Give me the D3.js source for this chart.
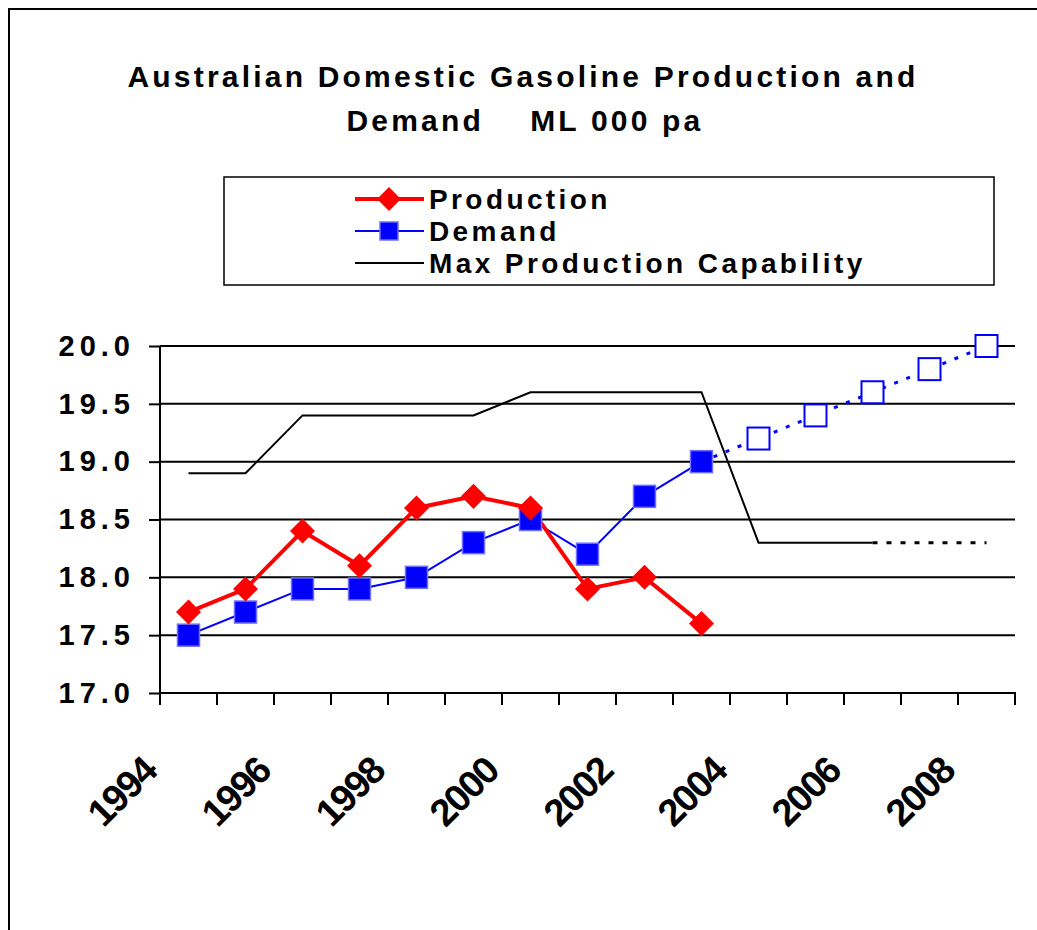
<!DOCTYPE html>
<html>
<head>
<meta charset="utf-8">
<script src="https://cdn.jsdelivr.net/npm/d3@7"></script>
<style>
  body { margin: 0; background: #fff; }
</style>
</head>
<body>
<div id="chart"></div>
<script>
// data
var years = ["1994","1995","1996","1997","1998","1999","2000","2001","2002","2003","2004","2005","2006","2007","2008"];
var tickYears = ["1994","1996","1998","2000","2002","2004","2006","2008"];
var production = [17.7, 17.9, 18.4, 18.1, 18.6, 18.7, 18.6, 17.9, 18.0, 17.6];
var demand = [17.5, 17.7, 17.9, 17.9, 18.0, 18.3, 18.5, 18.2, 18.7, 19.0];
var demandForecast = [19.0, 19.2, 19.4, 19.6, 19.8, 20.0]; // 2003..2008
var maxCapability = [18.9, 18.9, 19.4, 19.4, 19.4, 19.4, 19.6, 19.6, 19.6, 19.6, 18.3, 18.3, 18.3];
var maxCapForecast = [18.3, 18.3, 18.3]; // 2006..2008
var yTicks = [17.0, 17.5, 18.0, 18.5, 19.0, 19.5, 20.0];

var W = 1037, H = 930;
var fontFam = "'Liberation Sans', Arial, sans-serif";

var svg = d3.select("#chart").append("svg")
    .attr("width", W)
    .attr("height", H)
    .style("font-family", fontFam);

// outer chart border (runs off the page at right and bottom)
svg.append("rect")
   .attr("x", 9).attr("y", 9)
   .attr("width", W + 20).attr("height", H + 20)
   .style("fill", "none").style("stroke", "#000").style("stroke-width", 2);

// title
var title = svg.append("text")
   .attr("text-anchor", "middle")
   .style("font-size", "30px")
   .style("font-weight", "bold")
   .style("letter-spacing", "3.2px");
title.append("tspan").attr("x", 523).attr("y", 87).text("Australian Domestic Gasoline Production and");
title.append("tspan").attr("x", 525).attr("y", 131).text("Demand\u00a0\u00a0\u00a0\u00a0ML 000 pa");

var x = d3.scaleBand().domain(years).range([160, 1015]);
var y = d3.scaleLinear().domain([17, 20]).range([693, 346]);
var cx = function(yr) { return x(yr) + x.bandwidth() / 2; };

// grid lines
svg.append("g").selectAll("line")
   .data(yTicks.slice(1))
   .enter().append("line")
   .attr("x1", 160).attr("x2", 1015)
   .attr("y1", function(d) { return y(d); })
   .attr("y2", function(d) { return y(d); })
   .style("stroke", "#000").style("stroke-width", 2);

// y axis
var yAxis = svg.append("g")
   .attr("transform", "translate(160,0)")
   .call(d3.axisLeft(y).tickValues(yTicks).tickFormat(d3.format(".1f")).tickSize(11).tickPadding(14));
yAxis.select(".domain").style("stroke-width", 2).attr("d", "M0,346V693");
yAxis.selectAll(".tick line").style("stroke-width", 2);
yAxis.selectAll("text")
   .style("font-family", fontFam)
   .style("font-size", "29px")
   .style("font-weight", "bold")
   .style("letter-spacing", "5px")
   .attr("fill", "#000");

// x axis: ticks on category boundaries
var bounds = years.map(function(d) { return x(d); }).concat([1015]);
svg.append("line")
   .attr("x1", 159).attr("x2", 1016).attr("y1", 693).attr("y2", 693)
   .style("stroke", "#000").style("stroke-width", 2);
svg.append("g").selectAll("line")
   .data(bounds)
   .enter().append("line")
   .attr("x1", function(d) { return d; }).attr("x2", function(d) { return d; })
   .attr("y1", 693).attr("y2", 705)
   .style("stroke", "#000").style("stroke-width", 2);

// rotated year labels, ending at the left edge of their category
svg.append("g").selectAll("text")
   .data(tickYears)
   .enter().append("text")
   .attr("transform", function(d) { return "translate(" + (x(d) - 1) + ",773) rotate(-45)"; })
   .attr("text-anchor", "end")
   .style("font-size", "38px")
   .style("font-weight", "bold")
   .style("letter-spacing", "-1.5px")
   .text(function(d) { return d; });

var line = d3.line()
   .x(function(d) { return cx(d.yr); })
   .y(function(d) { return y(d.v); });
function pts(vals, offset) {
    return vals.map(function(v, i) { return { yr: years[i + offset], v: v }; });
}

// max production capability
svg.append("path")
   .datum(pts(maxCapability, 0))
   .attr("d", line)
   .style("fill", "none").style("stroke", "#000").style("stroke-width", 2);
svg.append("path")
   .datum(pts(maxCapForecast, 12))
   .attr("d", line)
   .style("fill", "none").style("stroke", "#000").style("stroke-width", 3)
   .style("stroke-dasharray", "5,9");

// demand forecast (dotted, open squares)
svg.append("path")
   .datum(pts(demandForecast, 9))
   .attr("d", line)
   .style("fill", "none").style("stroke", "#0000ff").style("stroke-width", 3)
   .style("stroke-dasharray", "4,9");

// demand actual
svg.append("path")
   .datum(pts(demand, 0))
   .attr("d", line)
   .style("fill", "none").style("stroke", "#0000ff").style("stroke-width", 2);

// production
svg.append("path")
   .datum(pts(production, 0))
   .attr("d", line)
   .style("fill", "none").style("stroke", "#ff0000").style("stroke-width", 4);

// demand markers
var sq = 22;
svg.append("g").selectAll("rect")
   .data(pts(demandForecast, 9).slice(1))
   .enter().append("rect")
   .attr("x", function(d) { return cx(d.yr) - sq / 2; })
   .attr("y", function(d) { return y(d.v) - sq / 2; })
   .attr("width", sq).attr("height", sq)
   .style("fill", "#fff").style("stroke", "#0000ff").style("stroke-width", 2);
svg.append("g").selectAll("rect")
   .data(pts(demand, 0))
   .enter().append("rect")
   .attr("x", function(d) { return cx(d.yr) - sq / 2; })
   .attr("y", function(d) { return y(d.v) - sq / 2; })
   .attr("width", sq).attr("height", sq)
   .style("fill", "#0000ff").style("stroke", "#6f6fff").style("stroke-width", 1.5);

// production markers
var diamond = d3.symbol().type(d3.symbolDiamond2).size(400);
svg.append("g").selectAll("path")
   .data(pts(production, 0))
   .enter().append("path")
   .attr("transform", function(d) { return "translate(" + cx(d.yr) + "," + y(d.v) + ")"; })
   .attr("d", diamond)
   .style("fill", "#ff0000");

// legend
var lg = svg.append("g");
lg.append("rect")
  .attr("x", 224).attr("y", 177).attr("width", 770).attr("height", 108)
  .style("fill", "#fff").style("stroke", "#000").style("stroke-width", 1.5);
var legendItems = [
    { name: "Production", y: 199, color: "#ff0000", w: 4, mark: "diamond" },
    { name: "Demand", y: 231, color: "#0000ff", w: 2, mark: "square" },
    { name: "Max Production Capability", y: 263, color: "#000", w: 2, mark: null }
];
legendItems.forEach(function(it) {
    lg.append("line")
      .attr("x1", 355).attr("x2", 424).attr("y1", it.y).attr("y2", it.y)
      .style("stroke", it.color).style("stroke-width", it.w);
    if (it.mark == "diamond") {
        lg.append("path")
          .attr("transform", "translate(389," + it.y + ")")
          .attr("d", d3.symbol().type(d3.symbolDiamond2).size(360))
          .style("fill", "#ff0000");
    } else if (it.mark == "square") {
        lg.append("rect")
          .attr("x", 380).attr("y", it.y - 9).attr("width", 18).attr("height", 18)
          .style("fill", "#0000ff").style("stroke", "#6f6fff").style("stroke-width", 1.5);
    }
    lg.append("text")
      .attr("x", 429).attr("y", it.y + 10)
      .style("font-size", "28px")
      .style("font-weight", "bold")
      .style("letter-spacing", "3.4px")
      .text(it.name);
});
</script>
</body>
</html>
